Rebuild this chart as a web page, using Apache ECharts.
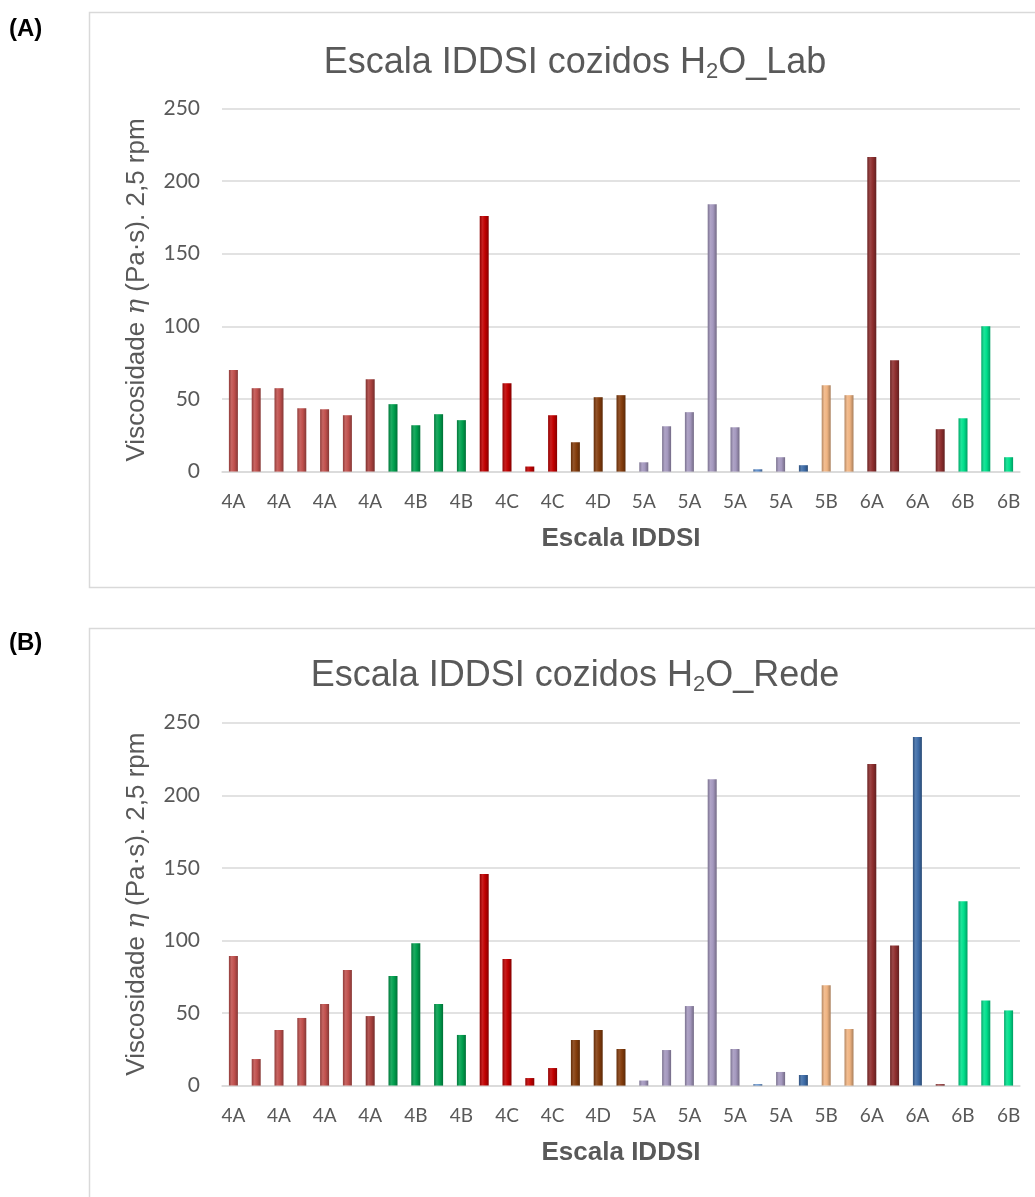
<!DOCTYPE html>
<html>
<head>
<meta charset="utf-8">
<script src="https://cdn.jsdelivr.net/npm/echarts@6/dist/echarts.min.js"></script>
<style>
html,body{margin:0;padding:0;background:#fff;}
#c{width:1035px;height:1197px;}
</style>
</head>
<body>
<div id="c"></div>
<script>
// IDDSI level of each sample (category axis; Excel shows every other label)
const categories = ['4A','4A','4A','4A','4A','4A','4A','4B','4B','4B','4B','4C','4C','4C','4C','4D','4D','4D',
  '5A','5A','5A','5A','5A','5A','5A','5A','5B','5B','6A','6A','6A','6A','6B','6B','6B'];
// Viscosity (Pa·s) at 2.5 rpm — panel A: H2O_Lab
const valuesLab = [70, 57.4, 57.4, 43.6, 42.9, 38.8, 63.6, 46.4, 31.9, 39.5, 35.4, 175.9, 60.8, 3.5, 38.8, 20.2, 51.2, 52.6,
  6.4, 31.2, 40.9, 184, 30.5, 1.6, 9.9, 4.4, 59.4, 52.6, 216.5, 76.6, null, 29.2, 36.7, 100, 9.9];
// panel B: H2O_Rede
const valuesRede = [89.3, 18.3, 38.3, 46.6, 56.2, 79.6, 47.9, 75.5, 98, 56.2, 34.9, 145.8, 87.2, 5.2, 12.1, 31.4, 38.3, 25.2,
  3.5, 24.5, 54.8, 211, 25.2, 1, 9.4, 7.3, 69.1, 39, 221.5, 96.6, 240.1, 1, 127, 58.7, 51.8];
// bar colours per sample
const barColors = ['#C0504D','#C0504D','#C0504D','#C0504D','#C0504D','#C0504D','#A9403D',
  '#00A04E','#00A04E','#00A04E','#00A04E',
  '#C00000','#C00000','#C00000','#C00000',
  '#843C0C','#843C0C','#843C0C',
  '#A498BE','#A498BE','#A498BE','#A498BE','#A498BE','#5B8BC9','#A498BE','#3E6CA8',
  '#F0B482','#F0B482',
  '#8E2E2E','#8E2E2E','#3E6CA8','#8E2E2E',
  '#00E08C','#00E08C','#00E08C'];
const yTicks = [0, 50, 100, 150, 200, 250];

function shade(hex, f){
  const n = parseInt(hex.slice(1),16);
  let r=(n>>16)&255, g=(n>>8)&255, b=n&255;
  if(f<0){ r=r*(1+f); g=g*(1+f); b=b*(1+f); }
  else { r=r+(255-r)*f; g=g+(255-g)*f; b=b+(255-b)*f; }
  return 'rgb('+Math.round(r)+','+Math.round(g)+','+Math.round(b)+')';
}
function cyl(hex){
  return new echarts.graphic.LinearGradient(0,0,1,0,[
    {offset:0, color:shade(hex,-0.25)},
    {offset:0.3, color:shade(hex,0.12)},
    {offset:0.6, color:hex},
    {offset:1, color:shade(hex,-0.3)}
  ]);
}
function seriesData(vals){
  return vals.map((v,i)=>({value:v, itemStyle:{color:cyl(barColors[i])}}));
}

const gray = '#595959';
const gridLine = '#D9D9D9';
const tickFont = 'Lato, "Open Sans", sans-serif';
const arial = '"Liberation Sans", Arial, sans-serif';

function xAxis(gi){
  return {
    type:'category', gridIndex:gi, data:categories,
    axisTick:{show:false},
    axisLine:{lineStyle:{color:gridLine, width:1.5}},
    axisLabel:{interval:1, color:gray, fontSize:19, fontFamily:tickFont, margin:21},
    name:'Escala IDDSI', nameLocation:'middle', nameGap:54,
    nameTextStyle:{color:gray, fontSize:26, fontWeight:'bold', fontFamily:arial}
  };
}
function yAxis(gi){
  return {
    type:'value', gridIndex:gi, min:yTicks[0], max:yTicks[yTicks.length-1], interval:50,
    axisLine:{show:false}, axisTick:{show:false},
    splitLine:{lineStyle:{color:gridLine, width:1.5}},
    axisLabel:{color:gray, fontSize:21, fontFamily:tickFont, margin:22},
    name:'Viscosidade {i|η} (Pa·s). 2,5 rpm', nameLocation:'middle', nameGap:72, nameRotate:90,
    nameTextStyle:{color:gray, fontSize:26, fontFamily:arial,
      rich:{i:{fontStyle:'italic', fontFamily:'"DejaVu Serif", serif', fontSize:26, color:gray}}}
  };
}

const titleRich = {
  sub:{fontSize:22, color:gray, fontFamily:arial, verticalAlign:'bottom', padding:[18,0,0,0]}
};

const chart = echarts.init(document.getElementById('c'), null, {renderer:'canvas'});
chart.setOption({
  animation:false,
  backgroundColor:'#fff',
  graphic:[
    {type:'rect', shape:{x:89.5, y:12.5, width:1000, height:575}, style:{fill:'none', stroke:'#D9D9D9', lineWidth:1.5}, z:-1},
    {type:'rect', shape:{x:89.5, y:628.5, width:1000, height:620}, style:{fill:'none', stroke:'#D9D9D9', lineWidth:1.5}, z:-1},
    {type:'text', left:9, top:17, style:{text:'(A)', font:'bold 24px "Liberation Sans", Arial', fill:'#000'}},
    {type:'text', left:9, top:631, style:{text:'(B)', font:'bold 24px "Liberation Sans", Arial', fill:'#000'}}
  ],
  title:[
    {text:'Escala IDDSI cozidos H{sub|2}O_Lab', left:570, top:38, textAlign:'center',
     textStyle:{color:gray, fontSize:36, fontWeight:'normal', fontFamily:arial, rich:titleRich}},
    {text:'Escala IDDSI cozidos H{sub|2}O_Rede', left:570, top:651, textAlign:'center',
     textStyle:{color:gray, fontSize:36, fontWeight:'normal', fontFamily:arial, rich:titleRich}}
  ],
  grid:[
    {left:222, width:798, top:108.3, height:363.3},
    {left:222, width:798, top:722.7, height:362.9}
  ],
  xAxis:[xAxis(0), xAxis(1)],
  yAxis:[yAxis(0), yAxis(1)],
  series:[
    {type:'bar', xAxisIndex:0, yAxisIndex:0, barWidth:9, data:seriesData(valuesLab)},
    {type:'bar', xAxisIndex:1, yAxisIndex:1, barWidth:9, data:seriesData(valuesRede)}
  ]
});
</script>
</body>
</html>
